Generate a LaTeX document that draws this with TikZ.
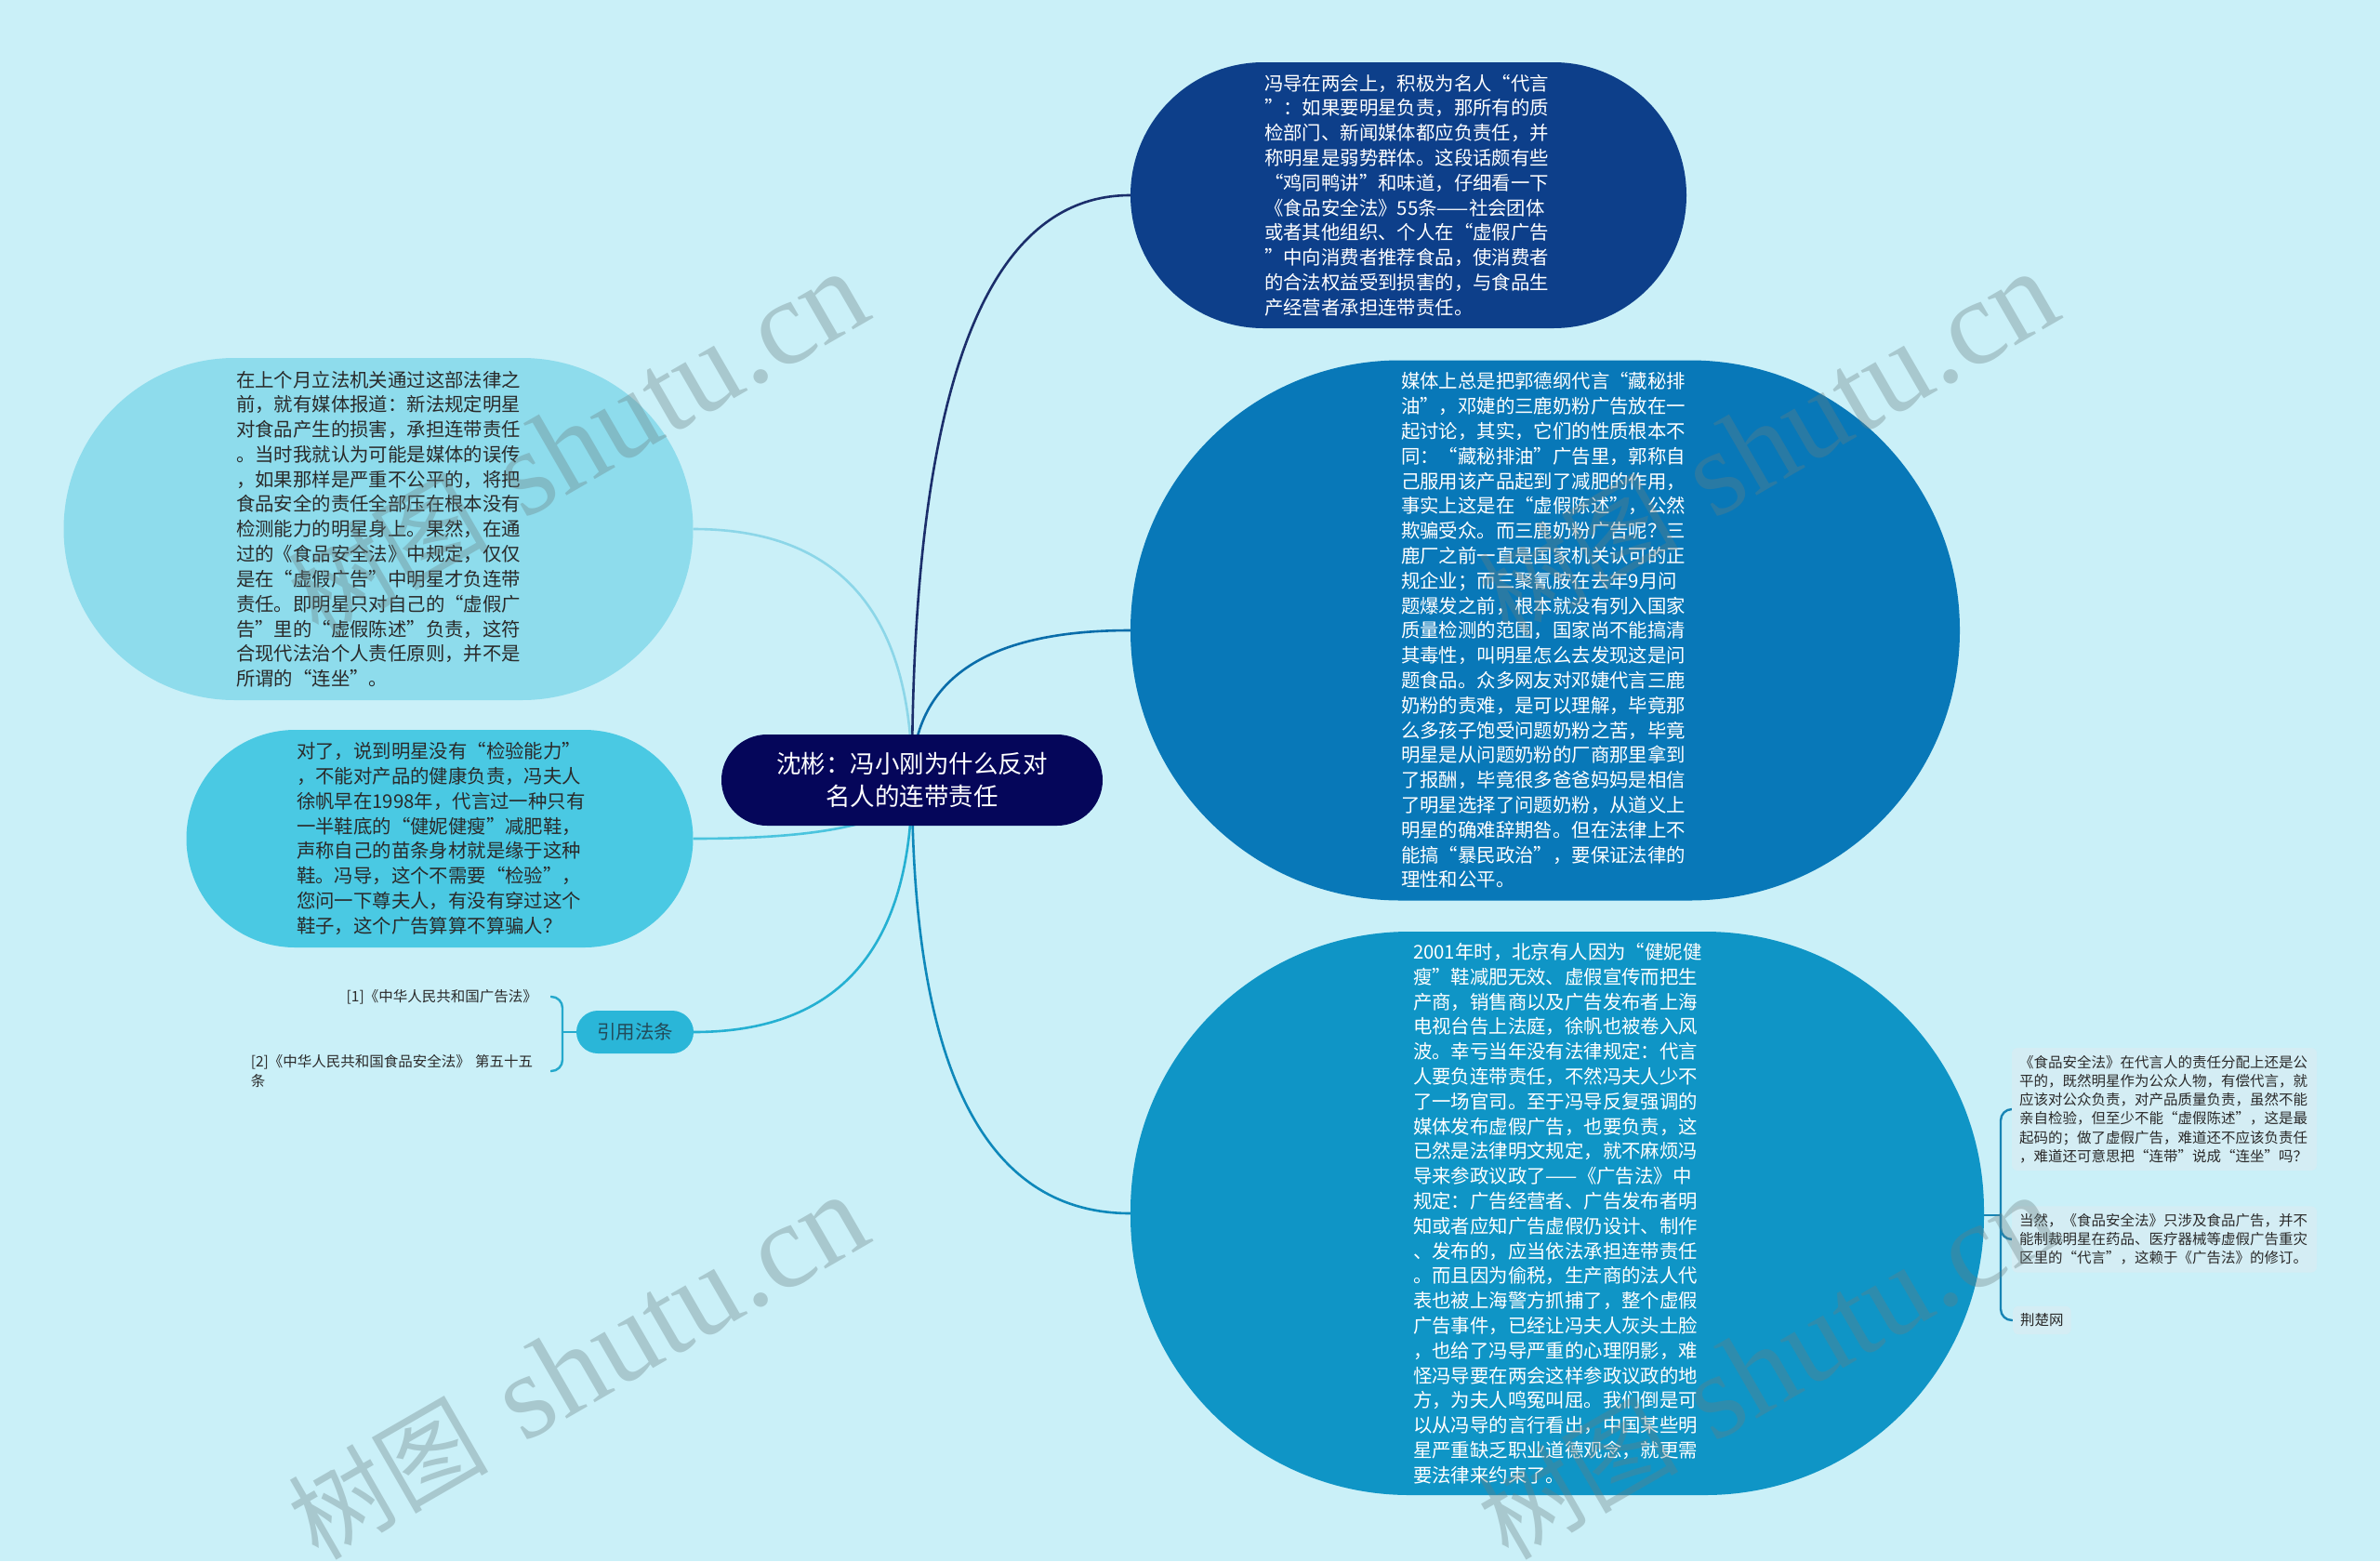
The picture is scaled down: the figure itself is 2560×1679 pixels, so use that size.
\documentclass[tikz,border=0pt]{standalone}
\usepackage{fontspec}
\setmainfont{Noto Sans CJK SC}
\newfontfamily\wmfont{Liberation Serif}
\newfontfamily\cjkfont{Noto Sans CJK SC}
\usetikzlibrary{calc}
\definecolor{bgc}{HTML}{CAF0F8}
\definecolor{cR}{HTML}{05065A}
\definecolor{cA}{HTML}{0D3F8A}
\definecolor{cB}{HTML}{0878B8}
\definecolor{cC}{HTML}{0F95C6}
\definecolor{cD}{HTML}{8EDCEC}
\definecolor{cE}{HTML}{4AC9E3}
\definecolor{cF}{HTML}{2AB6D8}
\definecolor{lA}{HTML}{1B2E6B}
\definecolor{lB}{HTML}{0A6DAA}
\definecolor{lC}{HTML}{0E88BA}
\definecolor{lD}{HTML}{8CD6E8}
\definecolor{lE}{HTML}{4BC4DE}
\definecolor{lF}{HTML}{25B0D2}
\definecolor{brR}{HTML}{1784B4}
\definecolor{brL}{HTML}{25A9CC}
\definecolor{leafbg}{HTML}{D4EDF4}
\definecolor{darktxt}{HTML}{2A2A2A}
\definecolor{ftxt}{HTML}{224B5A}
\definecolor{wmc}{HTML}{697E80}
\pgfdeclarelayer{back}
\pgfdeclarelayer{lines}
\pgfsetlayers{back,lines,main}
\begin{document}
\begin{tikzpicture}[x=1pt,y=-1pt,
  bub/.style={inner sep=0pt, align=left, text width=310pt,
    font=\fontsize{20.4pt}{26.8pt}\selectfont},
  leaftxt/.style={inner sep=0pt, text=darktxt,
    font=\fontsize{15.5pt}{20.2pt}\selectfont},
  leafbox/.style={leaftxt, fill=leafbg, rounded corners=6pt, inner sep=8pt},
  conn/.style={line width=2.6pt},
  brace/.style={line width=2.4pt, rounded corners=12pt},
  wm/.style={anchor=base, rotate=30, text=wmc, text opacity=0.35,
    font=\wmfont\fontsize{130pt}{130pt}\selectfont}
]
\useasboundingbox (0,0) rectangle (2560,1679);
\begin{pgfonlayer}{back}
\fill[bgc] (0,0) rectangle (2560,1679);
\end{pgfonlayer}

% root
\node[fill=cR, text=white, minimum width=410pt, minimum height=98pt,
  rounded corners=49pt, inner sep=0pt, align=center,
  font=\fontsize{26.5pt}{35pt}\selectfont] (nR) at (981,839)
  {沈彬：冯小刚为什么反对\\名人的连带责任};

% right main topics
\node[bub, fill=cA, text=white, minimum width=598pt, minimum height=286pt,
  rounded corners=143pt] (nA) at (1515,210)
{冯导在两会上，积极为名人“代言\\
”：如果要明星负责，那所有的质\\
检部门、新闻媒体都应负责任，并\\
称明星是弱势群体。这段话颇有些\\
“鸡同鸭讲”和味道，仔细看一下\\
《食品安全法》55条——社会团体\\
或者其他组织、个人在“虚假广告\\
”中向消费者推荐食品，使消费者\\
的合法权益受到损害的，与食品生\\
产经营者承担连带责任。};

\node[bub, fill=cB, text=white, minimum width=892pt, minimum height=581pt,
  rounded corners=290pt] (nB) at (1662,678)
{媒体上总是把郭德纲代言“藏秘排\\
油”，邓婕的三鹿奶粉广告放在一\\
起讨论，其实，它们的性质根本不\\
同：“藏秘排油”广告里，郭称自\\
己服用该产品起到了减肥的作用，\\
事实上这是在“虚假陈述”，公然\\
欺骗受众。而三鹿奶粉广告呢？三\\
鹿厂之前一直是国家机关认可的正\\
规企业；而三聚氰胺在去年9月问\\
题爆发之前，根本就没有列入国家\\
质量检测的范围，国家尚不能搞清\\
其毒性，叫明星怎么去发现这是问\\
题食品。众多网友对邓婕代言三鹿\\
奶粉的责难，是可以理解，毕竟那\\
么多孩子饱受问题奶粉之苦，毕竟\\
明星是从问题奶粉的厂商那里拿到\\
了报酬，毕竟很多爸爸妈妈是相信\\
了明星选择了问题奶粉，从道义上\\
明星的确难辞期咎。但在法律上不\\
能搞“暴民政治”，要保证法律的\\
理性和公平。};

\node[bub, fill=cC, text=white, minimum width=918pt, minimum height=606pt,
  rounded corners=300pt] (nC) at (1675,1305)
{2001年时，北京有人因为“健妮健\\
瘦”鞋减肥无效、虚假宣传而把生\\
产商，销售商以及广告发布者上海\\
电视台告上法庭，徐帆也被卷入风\\
波。幸亏当年没有法律规定：代言\\
人要负连带责任，不然冯夫人少不\\
了一场官司。至于冯导反复强调的\\
媒体发布虚假广告，也要负责，这\\
已然是法律明文规定，就不麻烦冯\\
导来参政议政了——《广告法》中\\
规定：广告经营者、广告发布者明\\
知或者应知广告虚假仍设计、制作\\
、发布的，应当依法承担连带责任\\
。而且因为偷税，生产商的法人代\\
表也被上海警方抓捕了，整个虚假\\
广告事件，已经让冯夫人灰头土脸\\
，也给了冯导严重的心理阴影，难\\
怪冯导要在两会这样参政议政的地\\
方，为夫人鸣冤叫屈。我们倒是可\\
以从冯导的言行看出，中国某些明\\
星严重缺乏职业道德观念，就更需\\
要法律来约束了。};

% left main topics
\node[bub, fill=cD, text=darktxt, minimum width=677pt, minimum height=368pt,
  rounded corners=184pt, text width=306pt] (nD) at (407,569)
{在上个月立法机关通过这部法律之\\
前，就有媒体报道：新法规定明星\\
对食品产生的损害，承担连带责任\\
。当时我就认为可能是媒体的误传\\
，如果那样是严重不公平的，将把\\
食品安全的责任全部压在根本没有\\
检测能力的明星身上。果然，在通\\
过的《食品安全法》中规定，仅仅\\
是在“虚假广告”中明星才负连带\\
责任。即明星只对自己的“虚假广\\
告”里的“虚假陈述”负责，这符\\
合现代法治个人责任原则，并不是\\
所谓的“连坐”。};

\node[bub, fill=cE, text=darktxt, minimum width=545pt, minimum height=234pt,
  rounded corners=117pt, text width=308pt] (nE) at (473,902)
{对了，说到明星没有“检验能力”\\
，不能对产品的健康负责，冯夫人\\
徐帆早在1998年，代言过一种只有\\
一半鞋底的“健妮健瘦”减肥鞋，\\
声称自己的苗条身材就是缘于这种\\
鞋。冯导，这个不需要“检验”，\\
您问一下尊夫人，有没有穿过这个\\
鞋子，这个广告算算不算骗人？};

\node[fill=cF, text=ftxt, minimum width=126pt, minimum height=46pt,
  rounded corners=23pt, inner sep=0pt,
  font=\fontsize{20.5pt}{24pt}\selectfont] (nF) at (683,1110) {引用法条};

% left leaves of 引用法条
\node[leaftxt, anchor=east] (LL1) at (578,1072) {{[1]}《中华人民共和国广告法》};
\node[leaftxt, anchor=east, align=left, text width=310pt] (LL2) at (580,1152)
  {{[2]}《中华人民共和国食品安全法》 第五十五\\条};

% right leaves of node C
\node[leafbox, align=left, text width=312pt] (L1) at (2328,1193)
{《食品安全法》在代言人的责任分配上还是公\\
平的，既然明星作为公众人物，有偿代言，就\\
应该对公众负责，对产品质量负责，虽然不能\\
亲自检验，但至少不能“虚假陈述”，这是最\\
起码的；做了虚假广告，难道还不应该负责任\\
，难道还可意思把“连带”说成“连坐”吗？};
\node[leafbox, align=left, text width=312pt] (L2) at (2328,1333)
{当然，《食品安全法》只涉及食品广告，并不\\
能制裁明星在药品、医疗器械等虚假广告重灾\\
区里的“代言”，这赖于《广告法》的修订。};
\node[leafbox, anchor=west] (L3) at (2165,1420) {荆楚网};

% connectors
\begin{pgfonlayer}{lines}
\coordinate (kA) at (nR.center |- nA.west);
\coordinate (kB) at (nR.center |- nB.west);
\coordinate (kC) at (nR.center |- nC.west);
\coordinate (kD) at (nR.center |- nD.east);
\coordinate (kE) at (nR.center |- nE.east);
\coordinate (kF) at (nR.center |- nF.east);
\draw[conn, lA] (nR.center) .. controls ($(nR.center)!0.667!(kA)$) and ($(nA.west)!0.667!(kA)$) .. (nA.west);
\draw[conn, lB] (nR.center) .. controls ($(nR.center)!0.667!(kB)$) and ($(nB.west)!0.667!(kB)$) .. (nB.west);
\draw[conn, lC] (nR.center) .. controls ($(nR.center)!0.667!(kC)$) and ($(nC.west)!0.667!(kC)$) .. (nC.west);
\draw[conn, lD] (nR.center) .. controls ($(nR.center)!0.667!(kD)$) and ($(nD.east)!0.667!(kD)$) .. (nD.east);
\draw[conn, lE] (nR.center) .. controls ($(nR.center)!0.667!(kE)$) and ($(nE.east)!0.667!(kE)$) .. (nE.east);
\draw[conn, lF] (nR.center) .. controls ($(nR.center)!0.667!(kF)$) and ($(nF.east)!0.667!(kF)$) .. (nF.east);

% right bracket
\coordinate (bj) at (2152,1307);
\draw[brace, brR] (nC.east |- bj) -- (bj);
\draw[brace, brR] (bj) |- (L1.west);
\draw[brace, brR] (bj) |- (L2.west);
\draw[brace, brR] (bj) |- (L3.west);

% left bracket
\coordinate (fj) at (605,1110);
\draw[brace, brL] (nF.west) -- (fj);
\draw[brace, brL] (fj) |- ([xshift=14pt]LL1.east);
\draw[brace, brL] (fj) |- ([xshift=12pt]LL2.east);
\end{pgfonlayer}

% watermarks
\node[wm] (w1) at (642,514) {{\cjkfont\fontsize{108pt}{108pt}\selectfont 树图}\hspace{0.3em}shutu.cn};
\node[wm] (w2) at (1922,514) {{\cjkfont\fontsize{108pt}{108pt}\selectfont 树图}\hspace{0.3em}shutu.cn};
\node[wm] (w3) at (642,1507) {{\cjkfont\fontsize{108pt}{108pt}\selectfont 树图}\hspace{0.3em}shutu.cn};
\node[wm] (w4) at (1922,1507) {{\cjkfont\fontsize{108pt}{108pt}\selectfont 树图}\hspace{0.3em}shutu.cn};
\end{tikzpicture}
\end{document}
